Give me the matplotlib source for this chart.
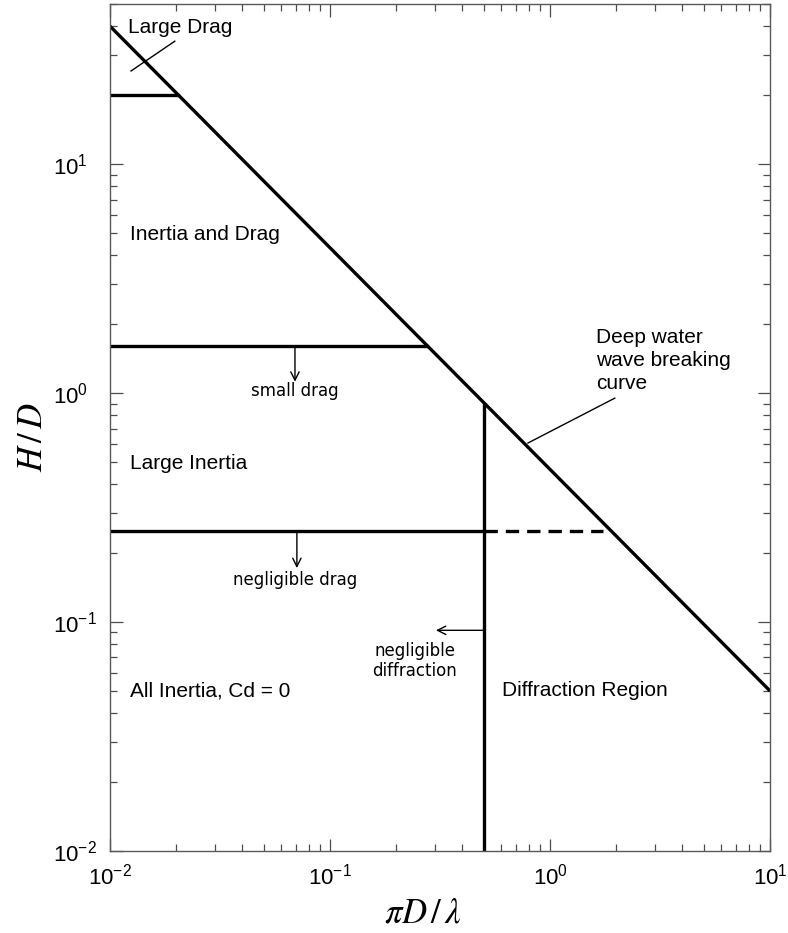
import matplotlib
matplotlib.use("Agg")
import matplotlib.pyplot as plt
from matplotlib.ticker import LogLocator

plt.rcParams['font.family'] = ['Liberation Sans', 'DejaVu Sans']
plt.rcParams['mathtext.fontset'] = 'custom'
plt.rcParams['mathtext.rm'] = 'Liberation Sans'
plt.rcParams['mathtext.it'] = 'Liberation Sans:italic'
plt.rcParams['mathtext.bf'] = 'Liberation Sans:bold'

# deep water breaking limit
break_x = [0.01, 10]
break_y = [40, 0.05]

# region boundaries
large_drag_x = [0.01, 0.0204]
large_drag_y = [20, 20]
small_drag_x = [0.01, 0.275]
small_drag_y = [1.6, 1.6]
negl_drag_x = [0.01, 0.5]
negl_drag_y = [0.25, 0.25]
negl_drag_dash_x = [0.5, 1.74]
negl_drag_dash_y = [0.25, 0.25]
diffr_x = [0.5, 0.5]
diffr_y = [0.01, 0.9]

fig = plt.figure(figsize=(7.88, 9.33), dpi=100)
ax = fig.add_axes([0.1396, 0.0879, 0.8376, 0.9078])

lw = 2.4
ax.plot(break_x, break_y, color='black', lw=lw, solid_capstyle='butt')
ax.plot(large_drag_x, large_drag_y, color='black', lw=lw)
ax.plot(small_drag_x, small_drag_y, color='black', lw=lw)
ax.plot(negl_drag_x, negl_drag_y, color='black', lw=lw)
ax.plot(negl_drag_dash_x, negl_drag_dash_y, color='black', lw=lw, dashes=(4, 2.4))
ax.plot(diffr_x, diffr_y, color='black', lw=lw)

ax.set_xscale('log')
ax.set_yscale('log')
ax.set_xlim(0.01, 10)
ax.set_ylim(0.01, 50)

# region names
big = 15
ax.text(0.0123, 4.9, 'Inertia and Drag', fontsize=big, va='center')
ax.text(0.0123, 0.49, 'Large Inertia', fontsize=big, va='center')
ax.text(0.0123, 0.05, 'All Inertia, Cd = 0', fontsize=big, va='center')
ax.text(0.605, 0.05, 'Diffraction Region', fontsize=big, va='center')
ax.text(0.0121, 39.3, 'Large Drag', fontsize=big, va='center')
ax.plot([0.01246, 0.0197], [25.5, 34.4], color='black', lw=1.0)
ax.text(1.62, 1.39, 'Deep water\nwave breaking\ncurve', fontsize=big, va='center',
        linespacing=1.28)
ax.plot([0.794, 1.97], [0.605, 0.95], color='black', lw=1.0)

# boundary notes with arrows
small = 12
arr = dict(arrowstyle='->', color='black', lw=1.0, shrinkA=0, shrinkB=0,
           mutation_scale=15)
ax.annotate('', xy=(0.0693, 1.12), xytext=(0.0693, 1.6), arrowprops=arr)
ax.text(0.0693, 1.02, 'small drag', family='DejaVu Sans', fontsize=small,
        ha='center', va='center')
ax.annotate('', xy=(0.0707, 0.172), xytext=(0.0707, 0.25), arrowprops=arr)
ax.text(0.0693, 0.152, 'negligible drag', family='DejaVu Sans', fontsize=small,
        ha='center', va='center')
ax.annotate('', xy=(0.303, 0.092), xytext=(0.5, 0.092), arrowprops=arr)
ax.text(0.243, 0.0676, 'negligible\ndiffraction', family='DejaVu Sans',
        fontsize=small, ha='center', va='center', linespacing=1.1)

# axis labels
ax.set_xlabel(r'$\pi D\,/\,\lambda$', fontsize=25, math_fontfamily='stix')
ax.set_ylabel(r'$H\,/\,D$', fontsize=25, math_fontfamily='stix')
ax.xaxis.set_label_coords(0.474, -0.073)
ax.xaxis.label.set_va('center')
ax.yaxis.set_label_coords(-0.118, 0.489)
ax.yaxis.label.set_va('center')

ax.xaxis.set_major_locator(LogLocator(base=10, numticks=10))
ax.yaxis.set_major_locator(LogLocator(base=10, numticks=10))
ax.tick_params(which='both', direction='in', top=True, right=True,
               color='0.3', width=0.9)
ax.tick_params(which='major', length=9, labelsize=16)
ax.tick_params(which='minor', length=5)
ax.tick_params(axis='x', which='major', pad=9)
ax.tick_params(axis='y', which='major', pad=41)
for lab in ax.get_yticklabels():
    lab.set_horizontalalignment('left')
for sp in ax.spines.values():
    sp.set_color('0.35')
    sp.set_linewidth(1.0)

fig.savefig('out.png', dpi=100)
